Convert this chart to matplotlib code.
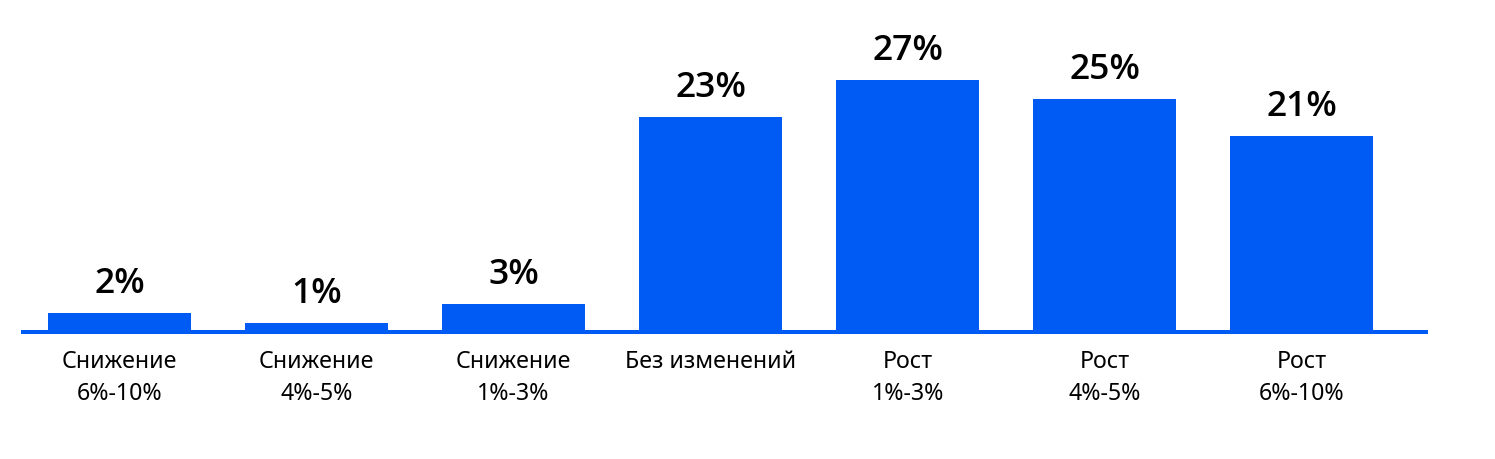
import matplotlib
matplotlib.use("Agg")
import matplotlib.pyplot as plt

categories_top = ["Снижение", "Снижение", "Снижение", "Без изменений", "Рост", "Рост", "Рост"]
categories_bottom = ["6%-10%", "4%-5%", "1%-3%", "", "1%-3%", "4%-5%", "6%-10%"]
values = [2, 1, 3, 23, 27, 25, 21]
value_labels = ["2%", "1%", "3%", "23%", "27%", "25%", "21%"]

BLUE = "#005BF5"
plt.rcParams['font.family'] = ['Noto Sans', 'DejaVu Sans']

W, H = 1495, 460
fig = plt.figure(figsize=(W / 100, H / 100), dpi=100)
ax_left, ax_right = 21, 1428
ax_base, ax_top = 333, 20
ax = fig.add_axes([ax_left / W, (H - ax_base) / H, (ax_right - ax_left) / W, (ax_base - ax_top) / H])

x = list(range(len(values)))
ax.bar(x, values, width=0.726, color=BLUE, zorder=2)
ax.axhline(0, color=BLUE, linewidth=2.9, zorder=3, clip_on=False, solid_capstyle='butt')
ax.set_xlim(-0.5, 6.64)
ax.set_ylim(0, (ax_base - ax_top) / 9.33)
ax.axis('off')

for i, (v, lab) in enumerate(zip(values, value_labels)):
    ax.annotate(lab, xy=(i, v), xytext=(0, 15.1), textcoords='offset points',
                ha='center', va='baseline', fontsize=25.5, fontweight='semibold', color='black',
                family=['Open Sans', 'DejaVu Sans'])

for i, (t, b) in enumerate(zip(categories_top, categories_bottom)):
    ax.annotate(t, xy=(i, 0), xytext=(0, -25.2), textcoords='offset points',
                ha='center', va='baseline', fontsize=16.7, color='black', annotation_clip=False)
    if b:
        ax.annotate(b, xy=(i, 0), xytext=(0, -47.9), textcoords='offset points',
                    ha='center', va='baseline', fontsize=16.7, color='black', annotation_clip=False)

fig.savefig("out.png", dpi=100)
